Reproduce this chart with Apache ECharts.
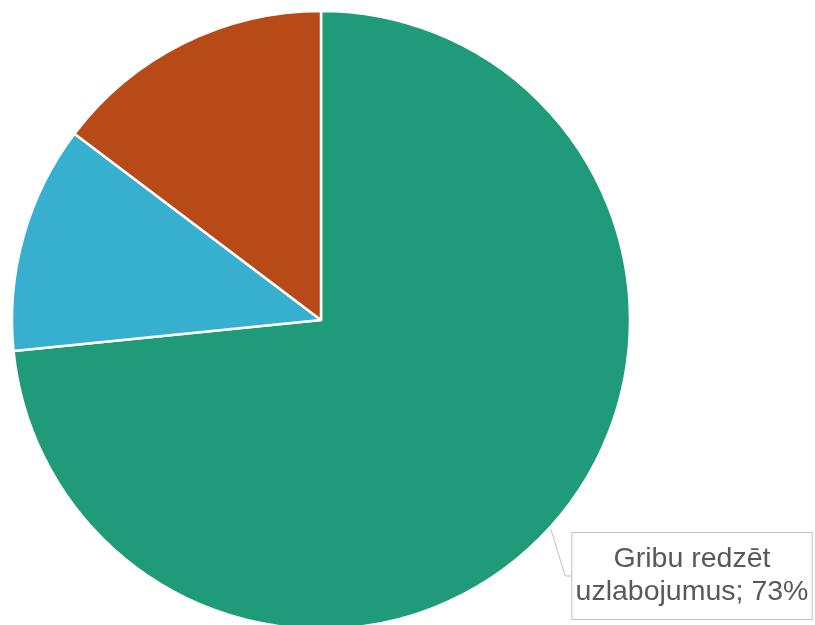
<!DOCTYPE html>
<html>
<head>
<meta charset="utf-8">
<script src="https://cdn.jsdelivr.net/npm/echarts@6/dist/echarts.min.js"></script>
<style>
  html, body { margin: 0; padding: 0; background: #fff; }
  #chart { width: 815px; height: 625px; }
</style>
</head>
<body>
<div id="chart"></div>
<script>
// 数据
const sliceNames = ['Gribu redzēt uzlabojumus', 'Esmu apmierināts', 'Nezinu'];
const sliceValues = [73.4, 11.9, 14.7];
const sliceColors = ['#1F9B7A', '#37AFCF', '#B84A17'];

// 只显示第一块的标签
const labelShown = [true, false, false];

const chart = echarts.init(document.getElementById('chart'));

const option = {
  animation: false,
  series: [
    {
      type: 'pie',
      center: [321, 320],
      radius: 309,
      startAngle: 90,
      clockwise: true,
      itemStyle: {
        borderColor: '#fff',
        borderWidth: 2.5
      },
      label: {
        show: true,
        position: 'outside',
        overflow: 'none',
        alignTo: 'none',
        formatter: function (p) {
          return 'Gribu redzēt\nuzlabojumus; ' + Math.round(p.percent) + '%';
        },
        fontFamily: 'Liberation Sans',
        fontSize: 28.5,
        lineHeight: 33,
        color: '#595959',
        align: 'center',
        backgroundColor: '#fff',
        borderColor: '#BFBFBF',
        borderWidth: 1,
        padding: [10, 15, 10, 15]
      },
      labelLine: {
        show: true,
        length: 6,
        length2: 6,
        lineStyle: { color: '#BFBFBF', width: 1 }
      },
      labelLayout: function (params) {
        if (params.dataIndex !== 0) return {};
        return { x: 692, y: 576, align: 'center', verticalAlign: 'middle' };
      },
      data: sliceNames.map(function (name, i) {
        return {
          name: name,
          value: sliceValues[i],
          itemStyle: { color: sliceColors[i] },
          label: { show: labelShown[i] },
          labelLine: { show: labelShown[i] }
        };
      })
    }
  ]
};

chart.setOption(option);

window.addEventListener('resize', function () {
  chart.resize();
});
</script>
</body>
</html>
